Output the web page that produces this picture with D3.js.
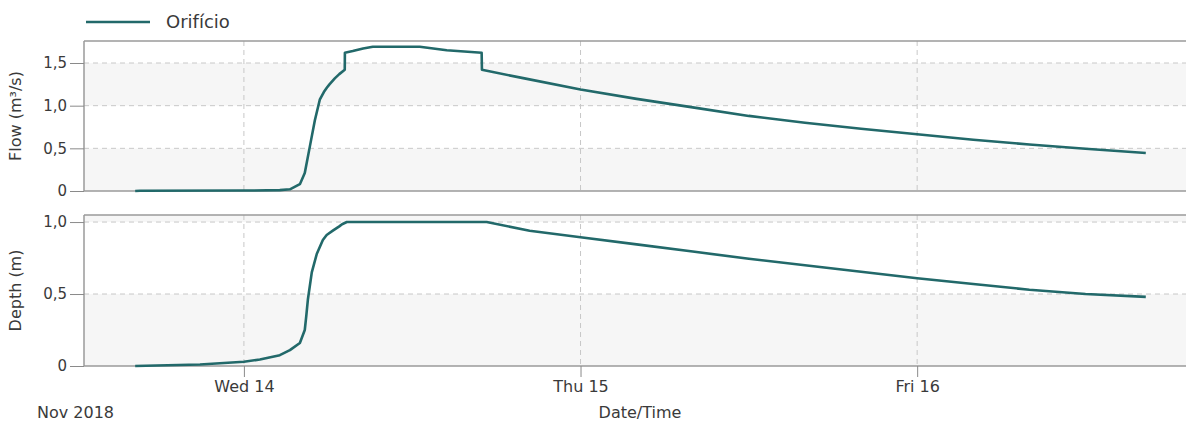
<!DOCTYPE html>
<html>
<head>
<meta charset="utf-8">
<script src="https://cdn.jsdelivr.net/npm/d3@7"></script>
<style>
  body { margin: 0; background: #fff; }
  text { font-family: "DejaVu Sans", sans-serif; fill: #3a3a3a; }
</style>
</head>
<body>
<svg id="chart" width="1186" height="421"></svg>
<script>
// hours counted from Wed 14 Nov 2018 00:00
const flowHours = [-7.75, -7.4, 0, 2.56, 3.28, 3.99, 4.1, 4.34, 4.70, 5.06, 5.41, 5.7, 5.91, 6.1, 6.48, 6.8, 7.19, 7.2, 7.76, 8.5, 9.19, 12.54, 14.46, 16.95, 16.97,
  20, 24, 28, 32, 36, 40, 44, 48, 52, 56, 60, 64.3];
const flowValues = [0, 0.003, 0.005, 0.01, 0.02, 0.08, 0.12, 0.21, 0.52, 0.83, 1.07, 1.16, 1.21, 1.25, 1.32, 1.37, 1.42, 1.62, 1.64, 1.67, 1.69, 1.69, 1.65, 1.62, 1.42,
  1.32, 1.19, 1.08, 0.98, 0.88, 0.80, 0.73, 0.665, 0.60, 0.545, 0.495, 0.445];

const depthHours = [-7.75, -3.13, 0, 1.14, 2.56, 3.28, 3.99, 4.34, 4.45, 4.56, 4.84, 5.2, 5.63, 5.9, 6.34, 6.8, 7.0, 7.34, 17.31, 20.37,
  24, 28, 32, 36, 40, 44, 48, 52, 56, 60, 64.3];
const depthValues = [0, 0.01, 0.03, 0.045, 0.075, 0.11, 0.16, 0.25, 0.35, 0.46, 0.65, 0.78, 0.875, 0.91, 0.94, 0.97, 0.985, 1.0, 1.0, 0.94,
  0.895, 0.845, 0.795, 0.745, 0.70, 0.655, 0.61, 0.57, 0.53, 0.50, 0.48];

const flowTicks = [0, 0.5, 1.0, 1.5];
const depthTicks = [0, 0.5, 1.0];
const dayTicks = [new Date(2018, 10, 14), new Date(2018, 10, 15), new Date(2018, 10, 16)];
const dayLabels = ["Wed 14", "Thu 15", "Fri 16"];
const seriesName = "Orifício";

const base = new Date(2018, 10, 14).getTime();
const toDate = h => new Date(base + h * 3600e3);

const svg = d3.select("#chart");
const left = 84, right = 1186;
const lineColor = "#22696a";

const x = d3.scaleTime()
  .domain([new Date(2018, 10, 13, 12, 36), new Date(2018, 10, 16, 19, 10)])
  .range([left, right]);

const fmt = d3.format(".1f");
const tickFmt = v => v === 0 ? "0" : fmt(v).replace(".", ",");

function panel(top, bottom, yMax, ticks, hours, values, label) {
  const y = d3.scaleLinear().domain([0, yMax]).range([bottom, top]);
  const g = svg.append("g");

  // alternating bands
  const edges = ticks.concat([yMax]);
  for (let i = 0; i < edges.length - 1; i++) {
    g.append("rect")
      .attr("x", left).attr("width", right - left)
      .attr("y", y(edges[i + 1])).attr("height", y(edges[i]) - y(edges[i + 1]))
      .style("fill", i % 2 === 0 ? "#f6f6f6" : "#ffffff");
  }

  // grid
  g.selectAll(".hgrid").data(ticks.filter(t => t > 0)).enter().append("line")
    .attr("x1", left).attr("x2", right)
    .attr("y1", d => y(d)).attr("y2", d => y(d))
    .style("stroke", "#c8c8c8").style("stroke-dasharray", "5,4");
  g.selectAll(".vgrid").data(dayTicks).enter().append("line")
    .attr("x1", d => x(d)).attr("x2", d => x(d))
    .attr("y1", top).attr("y2", bottom)
    .style("stroke", "#c8c8c8").style("stroke-dasharray", "5,4");

  // frame
  g.append("line").attr("x1", left).attr("x2", right).attr("y1", top).attr("y2", top)
    .style("stroke", "#9a9a9a").style("stroke-width", 1.5);
  g.append("line").attr("x1", left).attr("x2", right).attr("y1", bottom).attr("y2", bottom)
    .style("stroke", "#9a9a9a").style("stroke-width", 1.5);

  // y axis
  const yAxis = d3.axisLeft(y).tickValues(ticks).tickFormat(tickFmt).tickSize(14).tickPadding(3);
  const ya = g.append("g").attr("transform", `translate(${left},0)`).call(yAxis);
  ya.select(".domain").attr("d", `M0,${top}V${bottom}`).style("stroke", "#9a9a9a").style("stroke-width", 1.5);
  ya.selectAll(".tick line").style("stroke", "#8a8a8a");
  ya.selectAll(".tick text").style("font-size", "15px").style("font-family", "DejaVu Sans").style("fill", "#3a3a3a");

  g.append("text")
    .attr("transform", `translate(21,${(top + bottom) / 2}) rotate(-90)`)
    .attr("text-anchor", "middle")
    .style("font-size", "16px")
    .text(label);

  const line = d3.line().x(d => x(toDate(d[0]))).y(d => y(d[1]));
  g.append("path")
    .datum(hours.map((h, i) => [h, values[i]]))
    .attr("d", line)
    .style("fill", "none")
    .style("stroke", lineColor)
    .style("stroke-width", 2.6)
    .style("stroke-linejoin", "round");
  return y;
}

panel(41, 191, 1.758, flowTicks, flowHours, flowValues, "Flow (m³/s)");
panel(215, 366, 1.049, depthTicks, depthHours, depthValues, "Depth (m)");

// x axis
const xAxis = d3.axisBottom(x).tickValues(dayTicks).tickFormat((d, i) => dayLabels[i]).tickSize(11).tickPadding(4);
const xa = svg.append("g").attr("transform", "translate(0,366)").call(xAxis);
xa.select(".domain").remove();
xa.selectAll(".tick line").style("stroke", "#8a8a8a");
xa.selectAll(".tick text").style("font-size", "16px").style("font-family", "DejaVu Sans").style("fill", "#3a3a3a");

svg.append("text").attr("x", 37).attr("y", 418).style("font-size", "16px").text("Nov 2018");
svg.append("text").attr("x", 640).attr("y", 418).attr("text-anchor", "middle").style("font-size", "16px").text("Date/Time");

// legend
svg.append("line").attr("x1", 86).attr("x2", 150).attr("y1", 22).attr("y2", 22)
  .style("stroke", lineColor).style("stroke-width", 2.6);
svg.append("text").attr("x", 166).attr("y", 28).style("font-size", "18px").text(seriesName);
</script>
</body>
</html>
